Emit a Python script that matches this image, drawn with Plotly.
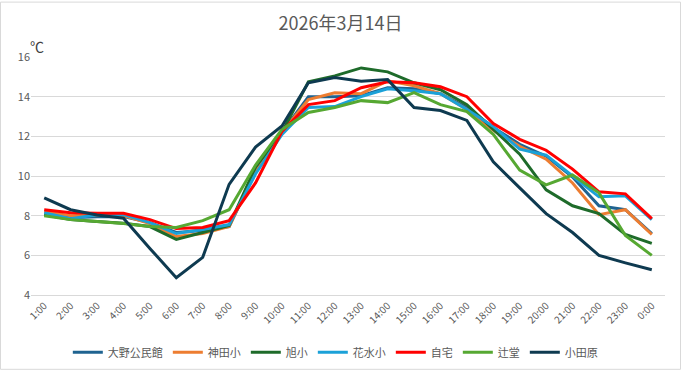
import plotly.graph_objects as go

hours = ["1:00", "2:00", "3:00", "4:00", "5:00", "6:00", "7:00", "8:00", "9:00", "10:00",
         "11:00", "12:00", "13:00", "14:00", "15:00", "16:00", "17:00", "18:00", "19:00",
         "20:00", "21:00", "22:00", "23:00", "0:00"]

ono = [8.1, 7.9, 7.95, 7.95, 7.65, 7.15, 7.25, 7.45, 10.25, 12.2, 14.0, 14.0, 14.05, 14.45,
       14.4, 14.15, 13.45, 12.45, 11.6, 11.0, 9.95, 8.5, 8.3, 7.1]
kanda = [8.2, 8.0, 8.05, 8.0, 7.6, 6.95, 7.1, 7.45, 10.2, 12.2, 13.85, 14.2, 14.15, 14.8,
         14.55, 14.15, 13.35, 12.3, 11.5, 10.85, 9.65, 8.05, 8.3, 7.05]
asahi = [8.05, 7.8, 7.7, 7.62, 7.45, 6.8, 7.15, 7.5, 10.45, 12.2, 14.75, 15.05, 15.45, 15.25,
         14.7, 14.35, 13.6, 12.35, 11.1, 9.3, 8.5, 8.1, 7.05, 6.6]
hanamizu = [8.15, 7.85, 8.05, 8.05, 7.65, 7.1, 7.3, 7.55, 10.1, 12.1, 13.45, 13.5, 14.0, 14.4,
            14.3, 14.15, 13.35, 12.5, 11.35, 11.05, 10.0, 8.95, 9.0, 7.8]
jitaku = [8.3, 8.15, 8.12, 8.12, 7.8, 7.35, 7.4, 7.75, 9.65, 12.25, 13.6, 13.8, 14.45, 14.75,
          14.7, 14.5, 14.0, 12.65, 11.85, 11.3, 10.35, 9.2, 9.1, 7.85]
tsujido = [8.0, 7.8, 7.7, 7.6, 7.45, 7.4, 7.75, 8.3, 10.55, 12.35, 13.2, 13.45, 13.8, 13.7,
           14.2, 13.6, 13.25, 12.1, 10.3, 9.55, 10.05, 9.15, 7.0, 6.0]
odawara = [8.9, 8.3, 8.03, 7.87, 6.35, 4.87, 5.9, 9.58, 11.46, 12.52, 14.7, 14.97, 14.78, 14.86,
           13.45, 13.3, 12.8, 10.72, 9.4, 8.1, 7.15, 6.0, 5.62, 5.27]

series = [
    ("大野公民館", ono, "#1F6390"),
    ("神田小", kanda, "#ED7D31"),
    ("旭小", asahi, "#1E6B2A"),
    ("花水小", hanamizu, "#1BA1D8"),
    ("自宅", jitaku, "#FF0000"),
    ("辻堂", tsujido, "#56A832"),
    ("小田原", odawara, "#0E3A50"),
]

font_family = "Noto Sans CJK JP, Noto Sans, sans-serif"

fig = go.Figure()
for name, vals, color in series:
    fig.add_trace(go.Scatter(
        x=list(range(len(hours))), y=vals, name=name, mode="lines",
        line=dict(color=color, width=3),
    ))

W, H = 681, 379
l, r, t, b = 31, 16, 57, 77
pw, ph = W - l - r, H - t - b

fig.update_layout(
    width=W, height=H,
    margin=dict(l=l, r=r, t=t, b=b),
    paper_bgcolor="white", plot_bgcolor="white",
    font=dict(family=font_family, color="#595959", size=11),
    title=dict(text="2026年3月14日", xref="container", x=0.5, xanchor="center",
               y=1 - 24 / H, yanchor="middle",
               font=dict(size=18, color="#595959", family=font_family)),
    showlegend=True,
    legend=dict(orientation="h", x=0.48, xanchor="center", y=-(361 - 302) / ph, yanchor="middle",
                font=dict(size=11, color="#595959"), itemwidth=30, tracegroupgap=0),
    xaxis=dict(
        tickmode="array", tickvals=list(range(len(hours))), ticktext=hours,
        range=[-0.5, len(hours) - 0.5], tickangle=-45, showgrid=False,
        showline=True, linecolor="#D9D9D9", ticks="", zeroline=False, automargin=False,
        tickfont=dict(size=10, color="#595959"),
    ),
    yaxis=dict(
        range=[4, 16], dtick=2, showgrid=True, gridcolor="#D9D9D9", gridwidth=1,
        zeroline=False, showline=False, ticks="", tickfont=dict(size=11, color="#595959"),
        ticklabelstandoff=0, automargin=False,
    ),
    annotations=[dict(text="℃", xref="paper", yref="paper", x=-3 / pw, y=(302 - 46) / ph,
                      xanchor="left", yanchor="middle", showarrow=False,
                      font=dict(size=14, color="#404040"))],
    shapes=[dict(type="rect", xref="paper", yref="paper",
                 x0=-(l - 0.5) / pw, x1=1 + (r - 0.5) / pw,
                 y0=-(b - 0.5) / ph, y1=1 + (t - 0.5) / ph,
                 line=dict(color="#D9D9D9", width=1), fillcolor="rgba(0,0,0,0)", layer="below")],
)

fig.write_html("out.html", config={"displayModeBar": False},
               post_script="document.body.style.margin='0';document.body.style.overflow='hidden';")
